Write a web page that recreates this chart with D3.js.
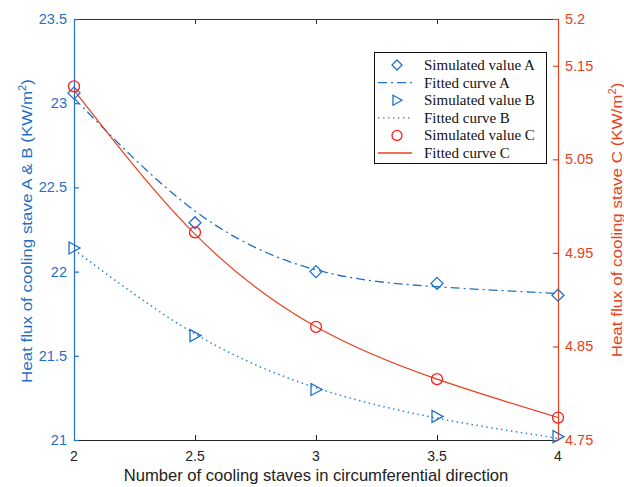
<!DOCTYPE html>
<html>
<head>
<meta charset="utf-8">
<script src="https://cdn.jsdelivr.net/npm/d3@7"></script>
<style>
  body { margin: 0; background: #fff; }
  svg { display: block; }
</style>
</head>
<body>
<svg id="chart" width="624" height="487"></svg>
<script>
// data
var staves = [2, 2.5, 3, 3.5, 4];
var simA = [23.06, 22.29, 22.00, 21.93, 21.86];
var fitA = [23.03, 22.36, 22.01, 21.91, 21.87];
var simB = [22.14, 21.62, 21.30, 21.14, 21.02];
var fitB = [22.13, 21.63, 21.31, 21.13, 21.01];
var simC = [5.128, 4.972, 4.871, 4.815, 4.774];
var fitC = [5.124, 4.970, 4.871, 4.815, 4.774];
var xTicks = [2, 2.5, 3, 3.5, 4];
var leftTicks = [21, 21.5, 22, 22.5, 23, 23.5];
var rightTicks = [4.75, 4.85, 4.95, 5.05, 5.15, 5.2];

var blue = "#1f6fc6", red = "#e8401c", redMark = "#ff1a1a";
var tickFont = "Liberation Sans, Arial, sans-serif";

var svg = d3.select("#chart");
var m = {left: 74, right: 558, top: 19, bottom: 440};

var x = d3.scaleLinear().domain([2, 4]).range([m.left, m.right]);
var yL = d3.scaleLinear().domain([21, 23.5]).range([m.bottom, m.top]);
var yR = d3.scaleLinear().domain([4.75, 5.2]).range([m.bottom, m.top]);

// top border
svg.append("g")
    .attr("transform", "translate(0," + m.top + ")")
    .call(d3.axisBottom(x).tickValues(xTicks).tickSize(5).tickFormat(""))
    .call(function(g) { g.selectAll("line,path").attr("stroke", "#333"); });

// bottom axis
var gx = svg.append("g")
    .attr("transform", "translate(0," + m.bottom + ")")
    .call(d3.axisTop(x).tickValues(xTicks).tickSize(5).tickSizeOuter(0).tickFormat(""));
gx.selectAll("line,path").attr("stroke", "#222");
svg.append("g").selectAll("text")
    .data(xTicks)
    .enter().append("text")
    .attr("x", function(d) { return x(d); })
    .attr("y", 461)
    .attr("text-anchor", "middle")
    .style("font-family", tickFont)
    .style("font-size", "14px")
    .attr("fill", "#222")
    .text(function(d) { return d; });

// left axis
var gl = svg.append("g")
    .attr("transform", "translate(" + m.left + ",0)")
    .call(d3.axisRight(yL).tickValues(leftTicks).tickSize(5).tickSizeOuter(0).tickFormat(""));
gl.selectAll("line,path").attr("stroke", blue).attr("stroke-width", 1.2);
svg.append("g").selectAll("text")
    .data(leftTicks)
    .enter().append("text")
    .attr("x", 67)
    .attr("y", function(d) { return yL(d) + 5; })
    .attr("text-anchor", "end")
    .style("font-family", tickFont)
    .style("font-size", "14.5px")
    .attr("fill", blue)
    .text(function(d) { return d; });

// right axis
var gr = svg.append("g")
    .attr("transform", "translate(" + m.right + ",0)")
    .call(d3.axisLeft(yR).tickValues(rightTicks).tickSize(5).tickSizeOuter(0).tickFormat(""));
gr.selectAll("line,path").attr("stroke", red).attr("stroke-width", 1.2);
svg.append("g").selectAll("text")
    .data(rightTicks)
    .enter().append("text")
    .attr("x", 565)
    .attr("y", function(d) { return yR(d) + 5; })
    .attr("text-anchor", "start")
    .style("font-family", tickFont)
    .style("font-size", "14.5px")
    .attr("fill", red)
    .text(function(d) { return d; });

// axis titles
svg.append("text")
    .attr("x", (m.left + m.right) / 2)
    .attr("y", 481)
    .attr("text-anchor", "middle")
    .style("font-family", tickFont)
    .style("font-size", "16.6px")
    .attr("fill", "#222")
    .text("Number of cooling staves in circumferential direction");

var tl = svg.append("text")
    .attr("transform", "translate(32,231) rotate(-90) scale(1.13,1)")
    .attr("text-anchor", "middle")
    .style("font-family", tickFont)
    .style("font-size", "15px")
    .attr("fill", blue);
tl.append("tspan").text("Heat flux of cooling stave A & B  (KW/m");
tl.append("tspan").attr("dy", -6).style("font-size", "10px").text("2");
tl.append("tspan").attr("dy", 6).text(")");

var tr = svg.append("text")
    .attr("transform", "translate(622,220) rotate(-90) scale(1.13,1)")
    .attr("text-anchor", "middle")
    .style("font-family", tickFont)
    .style("font-size", "15px")
    .attr("fill", red);
tr.append("tspan").text("Heat flux of cooling stave C  (KW/m");
tr.append("tspan").attr("dy", -6).style("font-size", "10px").text("2");
tr.append("tspan").attr("dy", 6).text(")");

// fitted curves
function curveLine(yScale) {
  return d3.line()
      .x(function(d, i) { return x(staves[i]); })
      .y(function(d) { return yScale(d); })
      .curve(d3.curveNatural);
}

var plot = svg.append("g");
plot.append("path").datum(fitA)
    .attr("d", curveLine(yL))
    .attr("fill", "none").attr("stroke", blue).attr("stroke-width", 1.3)
    .attr("stroke-dasharray", "9,4,2,4");
plot.append("path").datum(fitB)
    .attr("d", curveLine(yL))
    .attr("fill", "none").attr("stroke", "#2b86d8").attr("stroke-width", 1.5)
    .attr("stroke-dasharray", "1.5,3.5");
plot.append("path").datum(fitC)
    .attr("d", curveLine(yR))
    .attr("fill", "none").attr("stroke", red).attr("stroke-width", 1.2);

// markers
var diamond = "M0,-6L6,0L0,6L-6,0Z";
var triangle = "M-5,-6L6,0L-5,6Z";

plot.selectAll(".mA").data(simA).enter().append("path")
    .attr("d", diamond)
    .attr("transform", function(d, i) { return "translate(" + x(staves[i]) + "," + yL(d) + ")"; })
    .attr("fill", "none").attr("stroke", blue).attr("stroke-width", 1.3);
plot.selectAll(".mB").data(simB).enter().append("path")
    .attr("d", triangle)
    .attr("transform", function(d, i) { return "translate(" + x(staves[i]) + "," + yL(d) + ")"; })
    .attr("fill", "none").attr("stroke", blue).attr("stroke-width", 1.3);
plot.selectAll(".mC").data(simC).enter().append("circle")
    .attr("cx", function(d, i) { return x(staves[i]); })
    .attr("cy", function(d) { return yR(d); })
    .attr("r", 5.5)
    .attr("fill", "none").attr("stroke", redMark).attr("stroke-width", 1.3);

// legend
var legendItems = [
  {label: "Simulated value A", kind: "diamond", color: blue},
  {label: "Fitted curve A", kind: "dashdot", color: blue},
  {label: "Simulated value B", kind: "triangle", color: blue},
  {label: "Fitted curve B", kind: "dot", color: "#2b86d8"},
  {label: "Simulated value C", kind: "circle", color: redMark},
  {label: "Fitted curve C", kind: "solid", color: red}
];

var lg = svg.append("g");
lg.append("rect")
    .attr("x", 374.5).attr("y", 52.5)
    .attr("width", 172).attr("height", 111)
    .attr("fill", "#fff").attr("stroke", "#111").attr("stroke-width", 1);

legendItems.forEach(function(d, i) {
  var cy = 65 + i * 17.6;
  if (d.kind == "diamond") {
    lg.append("path").attr("d", "M0,-5L5,0L0,5L-5,0Z")
        .attr("transform", "translate(397," + cy + ")")
        .attr("fill", "none").attr("stroke", d.color).attr("stroke-width", 1.3);
  } else if (d.kind == "triangle") {
    lg.append("path").attr("d", "M-4,-5L5,0L-4,5Z")
        .attr("transform", "translate(397," + cy + ")")
        .attr("fill", "none").attr("stroke", d.color).attr("stroke-width", 1.3);
  } else if (d.kind == "circle") {
    lg.append("circle").attr("cx", 397).attr("cy", cy).attr("r", 5)
        .attr("fill", "none").attr("stroke", d.color).attr("stroke-width", 1.3);
  } else {
    var dash = d.kind == "dashdot" ? "9,4,2,4" : (d.kind == "dot" ? "1.5,3.5" : null);
    lg.append("line")
        .attr("x1", 378).attr("x2", 412).attr("y1", cy).attr("y2", cy)
        .attr("stroke", d.color).attr("stroke-width", 1.3)
        .attr("stroke-dasharray", dash);
  }
  lg.append("text")
      .attr("x", 424).attr("y", cy + 5)
      .style("font-family", "Liberation Serif, Times New Roman, serif")
      .style("font-size", "15px")
      .attr("fill", "#111")
      .text(d.label);
});
</script>
</body>
</html>
